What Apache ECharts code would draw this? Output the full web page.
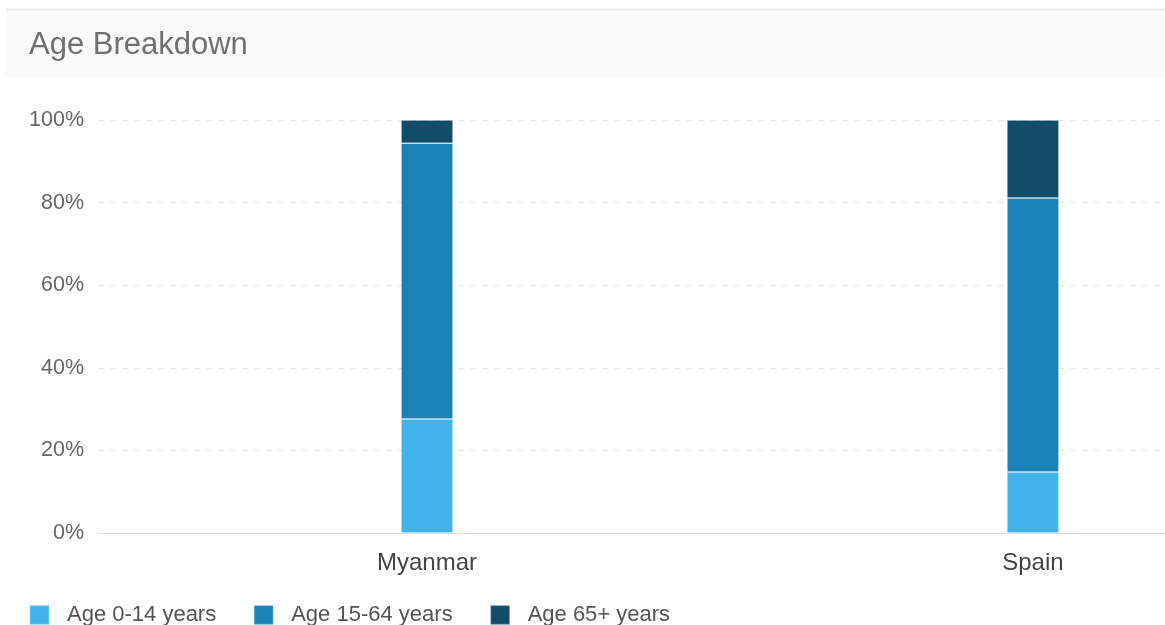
<!DOCTYPE html>
<html>
<head>
<meta charset="utf-8">
<title>Age Breakdown</title>
<script src="https://cdn.jsdelivr.net/npm/echarts@6/dist/echarts.min.js"></script>
<style>
  html, body { margin: 0; padding: 0; background: #fff; }
  #chart { width: 1165px; height: 625px; }
</style>
</head>
<body>
<div id="chart"></div>
<script>
// data (percent of population)
const countries = ['Myanmar', 'Spain']
const seriesNames = ['Age 0-14 years', 'Age 15-64 years', 'Age 65+ years']
const age0to14 = [27.6, 14.8]
const age15to64 = [66.8, 66.3]
const age65plus = [5.6, 18.9]
const yTicks = [0, 20, 40, 60, 80, 100]

const colors = ['#40b3e9', '#1a83b5', '#114c68']
const font = '"Liberation Sans", Arial, sans-serif'

// [value, countryIndex] so the stacked dimension is the value one
const toPoints = vals => vals.map((v, i) => [v, i])

const chart = echarts.init(document.getElementById('chart'))

const option = {
  animation: false,
  color: colors,
  textStyle: { fontFamily: font },
  title: {
    text: 'Age Breakdown',
    left: 29,
    top: 30,
    padding: 0,
    textStyle: { fontSize: 31, fontWeight: 'normal', color: '#707070', fontFamily: font }
  },
  graphic: [
    {
      type: 'rect',
      z: -10,
      shape: { x: 6, y: 9, width: 1159, height: 68 },
      style: { fill: '#f9f9f9' }
    },
    {
      type: 'line',
      z: -9,
      shape: { x1: 6, y1: 9.5, x2: 1165, y2: 9.5 },
      style: { stroke: '#ececec', lineWidth: 2 }
    }
  ],
  legend: {
    data: seriesNames,
    left: 29,
    top: 604,
    padding: 0,
    itemWidth: 19,
    itemHeight: 19,
    itemGap: 37,
    icon: 'rect',
    textStyle: { fontSize: 22, color: '#555', padding: [0, 0, 0, 13], fontFamily: font }
  },
  grid: {
    left: 98,
    right: 0,
    top: 120,
    height: 413,
    containLabel: false
  },
  xAxis: {
    type: 'value',
    min: -0.543,
    max: 1.218,
    splitLine: { show: false },
    axisTick: { show: false },
    axisLine: { show: true, lineStyle: { color: '#dddddd', width: 1 } },
    axisLabel: {
      customValues: countries.map((c, i) => i),
      formatter: v => countries[Math.round(v)] || '',
      fontSize: 24,
      color: '#444',
      margin: 18,
      fontFamily: font
    }
  },
  yAxis: {
    type: 'value',
    min: yTicks[0],
    max: yTicks[yTicks.length - 1],
    interval: 20,
    axisLine: { show: false },
    axisTick: { show: false },
    axisLabel: {
      formatter: '{value}%',
      fontSize: 21.5,
      color: '#666',
      margin: 14,
      fontFamily: font
    },
    splitLine: {
      show: true,
      lineStyle: { color: '#e6e6e6', type: [6, 6], width: 1 }
    }
  },
  series: [age0to14, age15to64, age65plus].map((vals, k) => ({
    name: seriesNames[k],
    type: 'bar',
    stack: 'age',
    barWidth: 52,
    encode: { x: 1, y: 0 },
    data: toPoints(vals),
    itemStyle: { borderColor: 'rgba(255,255,255,0.12)', borderWidth: 1 }
  }))
}

chart.setOption(option)
</script>
</body>
</html>
